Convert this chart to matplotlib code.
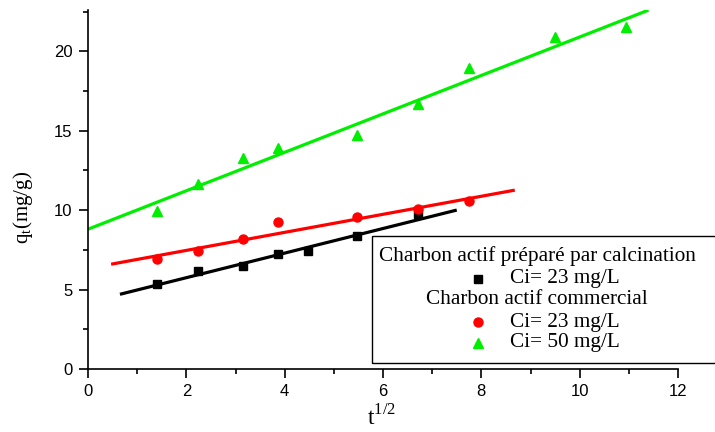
import numpy as np
import matplotlib
matplotlib.use("Agg")
import matplotlib.pyplot as plt
from matplotlib.patches import Rectangle
from matplotlib.lines import Line2D

# sqrt(t) values
x_prep = [1.41, 2.24, 3.16, 3.87, 4.47, 5.48, 6.71]
q_prep = [5.35, 6.16, 6.48, 7.23, 7.42, 8.36, 9.75]

x_com23 = [1.41, 2.24, 3.16, 3.87, 5.48, 6.71, 7.75]
q_com23 = [6.92, 7.42, 8.18, 9.25, 9.56, 10.06, 10.57]

x_com50 = [1.41, 2.24, 3.16, 3.87, 5.48, 6.71, 7.75, 9.49, 10.95]
q_com50 = [9.94, 11.63, 13.27, 13.90, 14.72, 16.67, 18.93, 20.88, 21.50]

# linear fits: (x start, x end, slope, intercept)
fit_prep = (0.65, 7.5, 0.774, 4.20)
fit_com23 = (0.47, 8.68, 0.568, 6.33)
fit_com50 = (0.0, 11.4, 1.21, 8.80)

fig = plt.figure(figsize=(7.15, 4.32), dpi=100)
ax = fig.add_axes([88 / 715, 63 / 432, 590 / 715, 359 / 432])

series = [
    (x_prep, q_prep, fit_prep, "black", "s", 6),
    (x_com23, q_com23, fit_com23, "red", "o", 6.5),
    (x_com50, q_com50, fit_com50, "#00ee00", "^", 7.5),
]
for xs, ys, fit, col, mk, ms in series:
    ax.plot(xs, ys, linestyle="none", marker=mk, color=col, markersize=ms)
    xf = np.array([fit[0], fit[1]])
    ax.plot(xf, fit[2] * xf + fit[3], color=col, lw=2.3, solid_capstyle="butt")

ax.set_xlim(0, 12)
ax.set_ylim(0, 22.6)
ax.set_xticks([0, 2, 4, 6, 8, 10, 12])
ax.set_xticks([1, 3, 5, 7, 9, 11], minor=True)
ax.set_yticks([0, 5, 10, 15, 20])
ax.set_yticks([2.5, 7.5, 12.5, 17.5, 22.5], minor=True)
for s in ["top", "right"]:
    ax.spines[s].set_visible(False)
for s in ["left", "bottom"]:
    ax.spines[s].set_linewidth(1.2)
ax.tick_params(which="major", direction="out", length=6.5, width=1.2,
               labelsize=12, pad=4.5)
ax.tick_params(which="minor", direction="out", length=3.5, width=1.2)
for lab in ax.get_xticklabels() + ax.get_yticklabels():
    lab.set_family("Liberation Sans")

ax.set_xlabel(r"t$^{\mathregular{1/2}}$", family="Liberation Serif",
              fontsize=17, va="bottom")
ax.xaxis.set_label_coords((382 - 88) / 590, -(430 - 369) / 359)
ax.set_ylabel(r"q$_{\mathregular{t}}$(mg/g)", family="Liberation Serif",
              fontsize=15)
ax.yaxis.set_label_coords(-0.09, 0.45)

# legend box, drawn by hand
W, H = 715.0, 432.0
def fx(p):
    return p / W
def fy(p):
    return 1 - p / H

fig.add_artist(Rectangle((fx(372), fy(363)), fx(360), (363 - 236) / H,
                         transform=fig.transFigure, fill=False,
                         edgecolor="black", lw=1.0, clip_on=False))
tfont = dict(family="Liberation Serif", fontsize=15.3, va="center")
fig.text(fx(537), fy(256), "Charbon actif préparé par calcination", ha="center", **tfont)
fig.text(fx(537), fy(300), "Charbon actif commercial", ha="center", **tfont)
rows = [(279, "Ci= 23 mg/L", "black", "s", 6),
        (322, "Ci= 23 mg/L", "red", "o", 6.5),
        (343, "Ci= 50 mg/L", "#00ee00", "^", 7.5)]
for yy, lab, col, mk, ms in rows:
    fig.add_artist(Line2D([fx(478)], [fy(yy)], transform=fig.transFigure,
                          marker=mk, color=col, markersize=ms, linestyle="none"))
    fig.text(fx(510), fy(yy), lab, ha="left", **tfont)

fig.savefig("out.png", dpi=100)
